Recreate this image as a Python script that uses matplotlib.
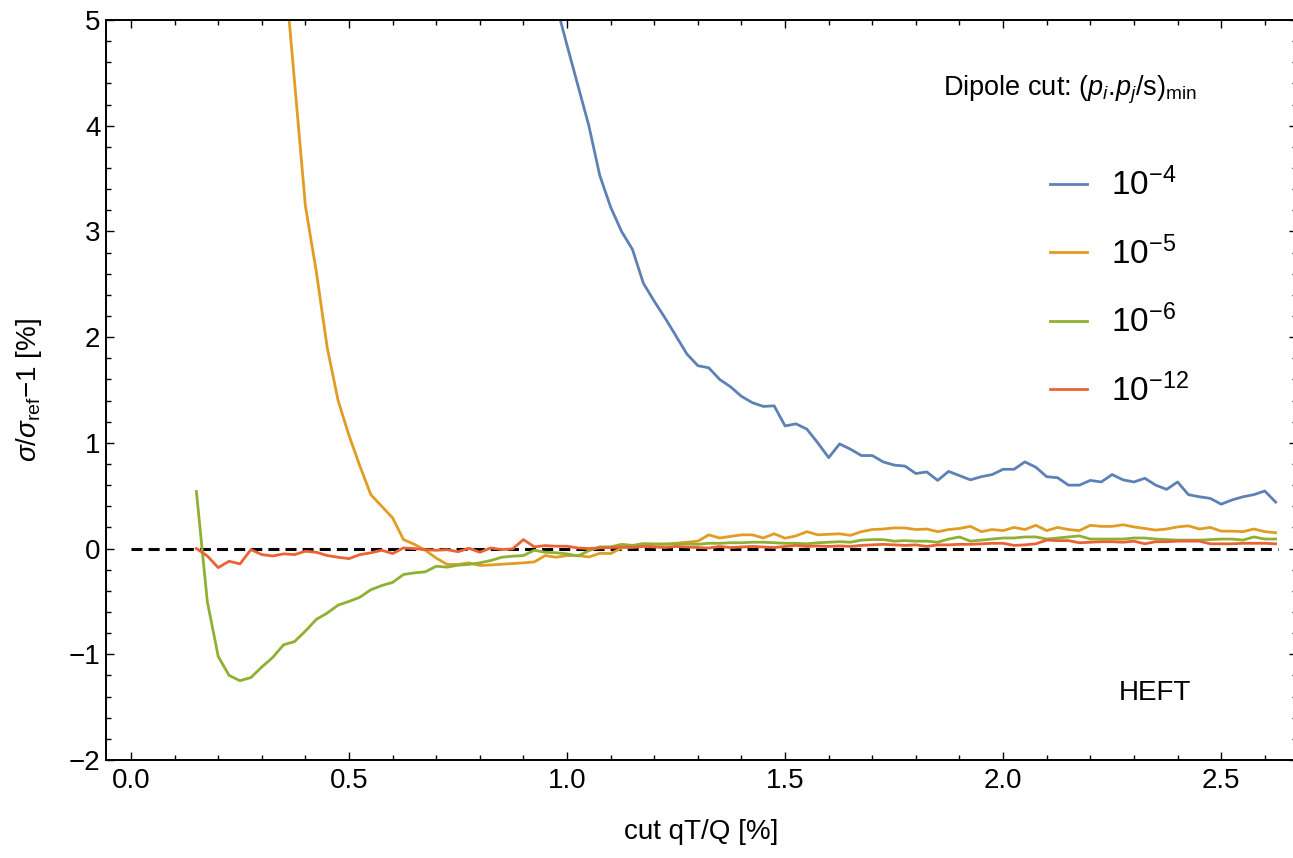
import numpy as np
import matplotlib
matplotlib.use("Agg")
import matplotlib.pyplot as plt
from matplotlib.ticker import MultipleLocator, FormatStrFormatter

plt.rcParams['font.family'] = ['Liberation Sans', 'DejaVu Sans']
plt.rcParams['mathtext.fontset'] = 'custom'
plt.rcParams['mathtext.rm'] = 'Liberation Sans'
plt.rcParams['mathtext.it'] = 'Liberation Sans:italic'
plt.rcParams['mathtext.bf'] = 'Liberation Sans:bold'
plt.rcParams['mathtext.sf'] = 'Liberation Sans'

# cut qT/Q grid in %, step 0.025
qt = np.round(np.arange(0.15, 2.6251, 0.025), 3)

# dipole cut 1e-4, starts at qT/Q = 0.975
dev_1e4 = [5.15, 4.76, 4.38, 4.0, 3.53, 3.23, 3.0,
           2.83, 2.51, 2.34, 2.18, 2.01, 1.84, 1.73, 1.71, 1.60, 1.53,
           1.44, 1.38, 1.345, 1.35, 1.16, 1.18, 1.13, 1.0, 0.86, 0.99,
           0.94, 0.88, 0.88, 0.82, 0.79, 0.78, 0.71, 0.725, 0.645, 0.73,
           0.69, 0.65, 0.68, 0.70, 0.75, 0.75, 0.82, 0.77, 0.68, 0.67,
           0.60, 0.60, 0.645, 0.63, 0.70, 0.65, 0.63, 0.665, 0.60, 0.56,
           0.63, 0.51, 0.49, 0.475, 0.42, 0.46, 0.49, 0.51, 0.545, 0.44]

# dipole cut 1e-5, starts at qT/Q = 0.35
dev_1e5 = [5.6, 4.42,
           3.24, 2.62, 1.9, 1.4, 1.07, 0.78, 0.51, 0.40, 0.29, 0.085,
           0.04, -0.016, -0.09, -0.15, -0.15, -0.135, -0.16, -0.155, -0.148, -0.142,
           -0.135, -0.126, -0.066, -0.082, -0.066, -0.066, -0.08, -0.045, -0.047, 0.006,
           0.02, 0.03, 0.04, 0.04, 0.05, 0.06, 0.07, 0.13, 0.10, 0.115,
           0.13, 0.13, 0.10, 0.14, 0.098, 0.12, 0.16, 0.13, 0.135, 0.14,
           0.125, 0.16, 0.18, 0.185, 0.195, 0.195, 0.18, 0.185, 0.16, 0.18,
           0.19, 0.21, 0.16, 0.18, 0.17, 0.20, 0.18, 0.22, 0.17, 0.20,
           0.18, 0.17, 0.22, 0.21, 0.21, 0.225, 0.205, 0.19, 0.175, 0.185,
           0.205, 0.215, 0.185, 0.20, 0.165, 0.165, 0.16, 0.185, 0.16, 0.15]

# dipole cut 1e-6, starts at qT/Q = 0.15
dev_1e6 = [0.54, -0.50, -1.02, -1.20, -1.25, -1.22, -1.12, -1.03, -0.91, -0.88,
           -0.78, -0.67, -0.61, -0.535, -0.50, -0.46, -0.39, -0.35, -0.32, -0.245,
           -0.23, -0.22, -0.167, -0.176, -0.157, -0.15, -0.135, -0.113, -0.082, -0.072,
           -0.066, -0.016, -0.035, -0.04, -0.05, -0.07, -0.02, 0.016, 0.016, 0.04,
           0.03, 0.047, 0.044, 0.044, 0.044, 0.044, 0.04, 0.05, 0.05, 0.055,
           0.055, 0.06, 0.06, 0.055, 0.05, 0.05, 0.045, 0.055, 0.06, 0.065,
           0.06, 0.08, 0.085, 0.085, 0.07, 0.075, 0.07, 0.07, 0.06, 0.09,
           0.11, 0.07, 0.08, 0.09, 0.10, 0.10, 0.11, 0.11, 0.09, 0.10,
           0.11, 0.12, 0.09, 0.09, 0.09, 0.09, 0.10, 0.10, 0.09, 0.085,
           0.08, 0.08, 0.08, 0.085, 0.09, 0.09, 0.08, 0.11, 0.09, 0.09]

# dipole cut 1e-12, starts at qT/Q = 0.15
dev_1e12 = [0.0, -0.07, -0.18, -0.12, -0.145, -0.01, -0.057, -0.07, -0.05, -0.057,
            -0.025, -0.035, -0.066, -0.082, -0.095, -0.057, -0.04, -0.016, -0.047, 0.006,
            0.0, -0.01, -0.016, -0.01, -0.03, 0.003, -0.035, 0.006, -0.01, -0.003,
            0.085, 0.016, 0.028, 0.022, 0.022, 0.006, 0.0, 0.006, 0.01, 0.015,
            0.01, 0.02, 0.015, 0.01, 0.02, 0.015, 0.01, 0.005, 0.02, 0.01,
            0.015, 0.02, 0.015, 0.01, 0.02, 0.03, 0.02, 0.025, 0.02, 0.025,
            0.02, 0.03, 0.035, 0.04, 0.035, 0.03, 0.035, 0.02, 0.035, 0.035,
            0.04, 0.04, 0.045, 0.05, 0.05, 0.03, 0.035, 0.045, 0.08, 0.075,
            0.075, 0.055, 0.06, 0.065, 0.065, 0.06, 0.07, 0.045, 0.065, 0.065,
            0.07, 0.07, 0.07, 0.045, 0.045, 0.045, 0.05, 0.05, 0.05, 0.045]

series = [
    (dev_1e4, r'$10^{-4}$', '#5E81B5'),
    (dev_1e5, r'$10^{-5}$', '#E19C24'),
    (dev_1e6, r'$10^{-6}$', '#8FB032'),
    (dev_1e12, r'$10^{-12}$', '#EB6235'),
]

fig = plt.figure(figsize=(12.93, 8.58), dpi=100)
ax = fig.add_axes([106 / 1293, 98 / 858, 1191 / 1293, 740 / 858])

# zero reference line
ax.plot([0.0, 2.63], [0, 0], color='black', lw=2.2, ls=(0, (3.6, 2.0)),
        dash_capstyle='butt', zorder=1)

handles = []
for vals, lab, col in series:
    x = qt[len(qt) - len(vals):]
    h, = ax.plot(x, vals, color=col, lw=2.0, label=lab, zorder=2)
    handles.append(h)

ax.set_xlim(-0.0573, 2.674)
ax.set_ylim(-2, 5)
ax.xaxis.set_major_locator(MultipleLocator(0.5))
ax.xaxis.set_minor_locator(MultipleLocator(0.1))
ax.xaxis.set_major_formatter(FormatStrFormatter('%.1f'))
ax.yaxis.set_major_locator(MultipleLocator(1))
ax.yaxis.set_minor_locator(MultipleLocator(0.2))
ax.tick_params(which='both', direction='in', top=True, right=True, width=1.0,
               labelsize=20)
ax.tick_params(which='major', length=6)
ax.tick_params(which='minor', length=3.5)
ax.tick_params(axis='x', pad=6)
ax.tick_params(axis='y', pad=4)
for s in ax.spines.values():
    s.set_linewidth(1.4)

ax.set_xlabel('cut qT/Q [%]', fontsize=20)
ax.xaxis.set_label_coords(0.5, -0.08)
ax.set_ylabel(r'$\sigma/\sigma_{\mathrm{ref}}{-}1$ [%]', fontsize=20)
ax.yaxis.set_label_coords(-0.052, 0.5)

# the dot sits outside math mode so mathtext adds no space after it
ax.text(0.7028, 0.905, r'Dipole cut: $(p_i$.$p_j/\mathrm{s})_{\mathrm{min}}$',
        transform=ax.transAxes, fontsize=19.5, ha='left', va='center')
ax.text(0.881, 0.0905, 'HEFT', transform=ax.transAxes, fontsize=20,
        ha='center', va='center')

ax.legend(handles=handles, loc='upper left', bbox_to_anchor=(0.7926, 0.80),
          frameon=False, fontsize=24, handlelength=1.12, handletextpad=0.7,
          labelspacing=1.02, borderpad=0, borderaxespad=0)

fig.savefig('out.png', dpi=100)
